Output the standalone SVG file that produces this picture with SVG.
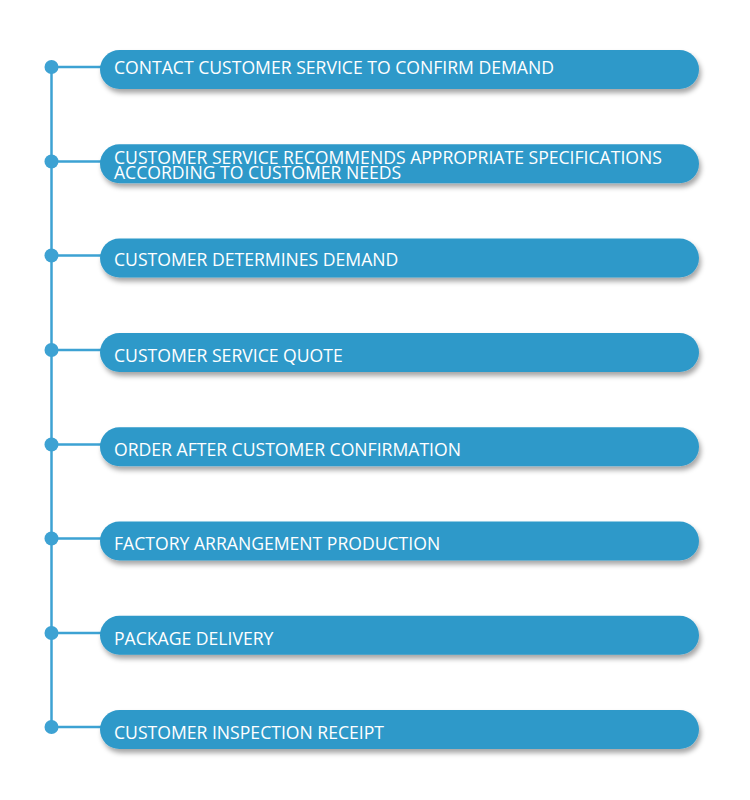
<svg xmlns="http://www.w3.org/2000/svg" width="750" height="800" viewBox="0 0 750 800">
<defs>
<filter id="sh" x="-5%" y="-30%" width="110%" height="170%">
<feDropShadow dx="2" dy="4" stdDeviation="2.5" flood-color="#000" flood-opacity="0.35"/>
</filter>
<style>
.pill{fill:#2f99c9;filter:url(#sh)}
.t{font-family:"Open Sans","Noto Sans",sans-serif;font-size:17.6px;fill:#fff}
.ln{stroke:#3da2d3;stroke-width:2.5;fill:none}
.dot{fill:#3da2d3}
</style>
</defs>
<rect width="750" height="800" fill="#fff"/>
<g id="connectors">
<path class="ln" d="M51.5 67V729"/>
<path class="ln" d="M51.5 67H110M51.5 161.5H110M51.5 255.5H110M51.5 350H110M51.5 444.5H110M51.5 538.5H110M51.5 633H110M51.5 727H110"/>
</g>
<g id="n1"><circle class="dot" cx="51.5" cy="67" r="7"/><rect class="pill" x="100" y="50" width="599" height="39" rx="19.5"/><text class="t" x="114" y="73.5">CONTACT CUSTOMER SERVICE TO CONFIRM DEMAND</text></g>
<g id="n2"><circle class="dot" cx="51.5" cy="161.5" r="7"/><rect class="pill" x="100" y="144.3" width="599" height="39" rx="19.5"/><text class="t" x="114" y="163.5">CUSTOMER SERVICE RECOMMENDS APPROPRIATE SPECIFICATIONS<tspan x="114" y="179">ACCORDING TO CUSTOMER NEEDS</tspan></text></g>
<g id="n3"><circle class="dot" cx="51.5" cy="255.5" r="7"/><rect class="pill" x="100" y="238.6" width="599" height="39" rx="19.5"/><text class="t" x="114" y="265.5">CUSTOMER DETERMINES DEMAND</text></g>
<g id="n4"><circle class="dot" cx="51.5" cy="350" r="7"/><rect class="pill" x="100" y="332.9" width="599" height="39" rx="19.5"/><text class="t" x="114" y="361.5">CUSTOMER SERVICE QUOTE</text></g>
<g id="n5"><circle class="dot" cx="51.5" cy="444.5" r="7"/><rect class="pill" x="100" y="427.2" width="599" height="39" rx="19.5"/><text class="t" x="114" y="455.5">ORDER AFTER CUSTOMER CONFIRMATION</text></g>
<g id="n6"><circle class="dot" cx="51.5" cy="538.5" r="7"/><rect class="pill" x="100" y="521.5" width="599" height="39" rx="19.5"/><text class="t" x="114" y="550">FACTORY ARRANGEMENT PRODUCTION</text></g>
<g id="n7"><circle class="dot" cx="51.5" cy="633" r="7"/><rect class="pill" x="100" y="615.8" width="599" height="39" rx="19.5"/><text class="t" x="114" y="644.5">PACKAGE DELIVERY</text></g>
<g id="n8"><circle class="dot" cx="51.5" cy="727" r="7"/><rect class="pill" x="100" y="710.1" width="599" height="39" rx="19.5"/><text class="t" x="114" y="739">CUSTOMER INSPECTION RECEIPT</text></g>
</svg>
